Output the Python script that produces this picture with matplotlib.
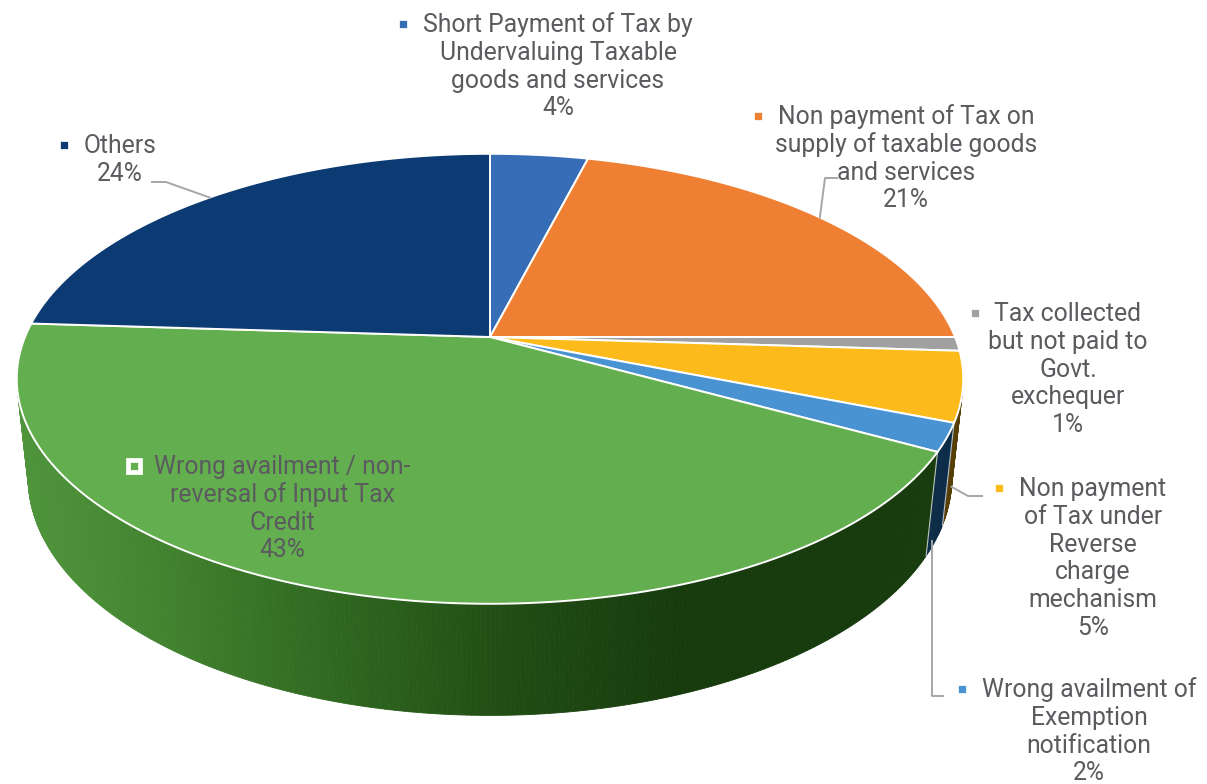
import numpy as np
import matplotlib.pyplot as plt
from matplotlib.patches import Polygon
from matplotlib.colors import rgb_to_hsv, hsv_to_rgb, to_rgb

plt.rcParams['font.family'] = ['Roboto', 'DejaVu Sans']

# slices, clockwise from 12 o'clock
categories = [
    "Short Payment of Tax by\nUndervaluing Taxable\ngoods and services",
    "Non payment of Tax on\nsupply of taxable goods\nand services",
    "Tax collected\nbut not paid to\nGovt.\nexchequer",
    "Non payment\nof Tax under\nReverse\ncharge\nmechanism",
    "Wrong availment of\nExemption\nnotification",
    "Wrong availment / non-\nreversal of Input Tax\nCredit",
    "Others",
]
shares = [4, 21, 1, 5, 2, 43, 24]
colors = ['#376db6', '#ee7f33', '#a0a0a0', '#fdbb1b', '#4a93d3', '#63ae4e', '#0c3a72']

# label placement: text centre x, first line y, and where the leader meets the pie
label_xy = [(558, 25), (906, 117), (1068, 314), (1093, 489), (1089, 690), (282, 467), (120, 146)]
leader_elbow = [None, [(837, 178), (825, 178)], None, [(982, 496), (968, 496)],
                [(943, 696), (932, 696)], None, [(152, 182), (166, 182)]]
leader_z = [0, 0, 0, 1, 1, 0, 0]   # 0 = top rim, 1 = bottom of the side wall

# view of the 3d pie
elev = np.radians(27.85)
dist = 4.76
depth = 0.243
scale = 465
cx, cy = 490, 337


def project(x, y, z):
    s, c = np.sin(elev), np.cos(elev)
    v = y * s + z * c
    w = y * c - z * s
    k = dist / (dist + w)
    return cx + scale * x * k, cy - scale * v * k


def rim(t, z=0.0):
    return project(np.sin(t), np.cos(t), z)


def shade(color, sx):
    f = np.interp(sx, [10, 150, 330, 500, 680], [0.86, 0.76, 0.6, 0.45, 0.34])
    h, s, v = rgb_to_hsv(to_rgb(color))
    s = min(1.0, s + (1 - s) * (1 - f) * 0.75)
    return hsv_to_rgb((h, s, v * f))


fig = plt.figure(figsize=(12.07, 7.84), dpi=100)
ax = fig.add_axes([0, 0, 1, 1])
ax.set_xlim(0, 1207)
ax.set_ylim(784, 0)
ax.axis('off')

bounds = np.concatenate([[0], np.cumsum(shares)]) / sum(shares) * 2 * np.pi
limit = -1 / (dist * np.cos(elev))

# side wall, only the part facing the viewer
for i, col in enumerate(colors):
    t0, t1 = bounds[i], bounds[i + 1]
    ts = np.linspace(t0, t1, max(2, int(np.degrees(t1 - t0) * 2)) + 1)
    for a, b in zip(ts[:-1], ts[1:]):
        if np.cos((a + b) / 2) > limit:
            continue
        quad = [rim(a), rim(b), rim(b, -depth), rim(a, -depth)]
        fc = shade(col, (quad[0][0] + quad[1][0]) / 2)
        ax.add_patch(Polygon(quad, closed=True, fc=fc, ec=fc, lw=0.6))

for t in bounds[:-1]:
    if np.cos(t) < limit:
        p, q = rim(t), rim(t, -depth)
        ax.plot([p[0], q[0]], [p[1], q[1]], color='white', lw=0.8, alpha=0.7)

# top faces
for i, col in enumerate(colors):
    ts = np.linspace(bounds[i], bounds[i + 1], 200)
    pts = [project(0, 0, 0)] + [rim(t) for t in ts]
    ax.add_patch(Polygon(pts, closed=True, fc=col, ec='white', lw=1.4, joinstyle='round'))

# labels
renderer = fig.canvas.get_renderer()
inv = ax.transData.inverted()
for i, (name, pct) in enumerate(zip(categories, shares)):
    lx, ly = label_xy[i]
    lines = name.split('\n') + [f"{pct}%"]
    first = None
    for j, line in enumerate(lines):
        t = ax.text(lx, ly + j * 27.8, line, ha='center', va='center',
                    fontsize=17.8, color='#5b5b5f')
        if j == 0:
            first = t
    bb = first.get_window_extent(renderer)
    left = inv.transform((bb.x0, bb.y0))[0]
    ax.plot(left - 20, ly - 1, marker='s', ms=8.6, mfc=colors[i], mec='white',
            mew=3.4, ls='none')

    if leader_elbow[i] is not None:
        mid = (bounds[i] + bounds[i + 1]) / 2
        end = rim(mid, -depth * leader_z[i])
        xs = [p[0] for p in leader_elbow[i]] + [end[0]]
        ys = [p[1] for p in leader_elbow[i]] + [end[1]]
        if i == 4:
            xs[-1] = xs[-2]
        ax.plot(xs, ys, color='#a6a6a6', lw=1.4)

fig.savefig('out.png', dpi=100)
